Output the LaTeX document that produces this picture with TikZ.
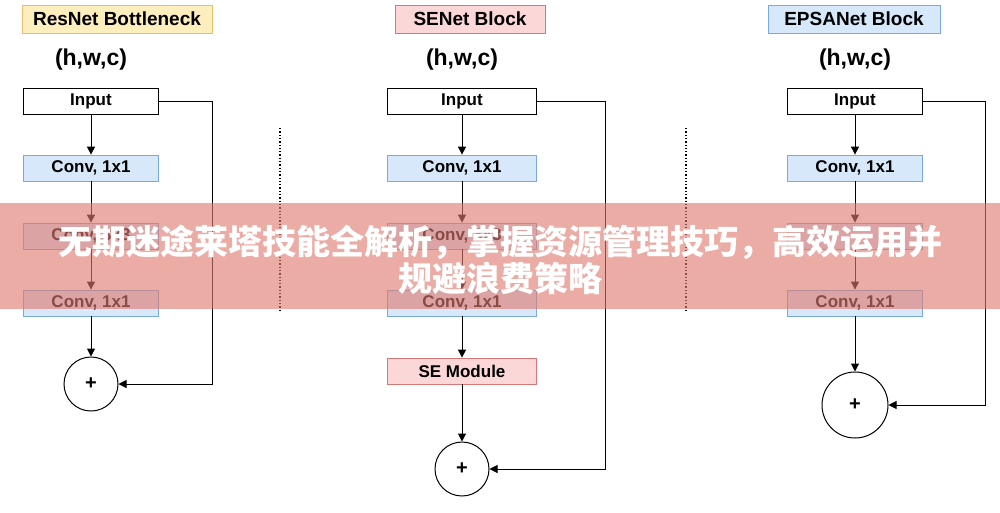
\documentclass[tikz,border=0pt]{standalone}
\usepackage{fontspec}
\setmainfont{Liberation Sans}
\newfontfamily\cjk{Noto Sans CJK SC}
\usetikzlibrary{arrows.meta}
\definecolor{cyel}{RGB}{253,238,190}\definecolor{cyelD}{RGB}{230,190,110}
\definecolor{cpink}{RGB}{252,215,215}\definecolor{cpinkD}{RGB}{215,120,120}
\definecolor{cblue}{RGB}{215,232,250}\definecolor{cblueD}{RGB}{120,170,220}
\definecolor{cband}{RGB}{222,122,110}
\begin{document}
\begin{tikzpicture}[x=1pt,y=-1pt,
 box/.style={draw=#1,line width=0.8pt,minimum height=26pt,inner sep=0pt,font=\bfseries\fontsize{17}{17}\selectfont},
 ttl/.style={draw=#1,line width=1pt,minimum height=28pt,inner sep=0pt,font=\bfseries\fontsize{19}{19}\selectfont},
 hd/.style={font=\bfseries\fontsize{23}{23}\selectfont},
 arr/.style={-{Triangle[length=8pt,width=8pt]},line width=1pt},
 dot/.style={line width=1.3pt,dotted},
 circ/.style={draw,circle,line width=1pt,inner sep=0pt,font=\bfseries\fontsize{20}{20}\selectfont}]
\path[use as bounding box,fill=white] (0,0) rectangle (1000,512);
% ResNet
\node[ttl=cyelD,fill=cyel,minimum width=190pt] (t1) at (117,19) {ResNet Bottleneck};
\node[hd] (s1) at (91,60) {(h,w,c)};
\node[box=black,fill=white,minimum width=135pt] (i1) at (91,101) {Input};
\node[box=cblueD,fill=cblue,minimum width=135pt] (a1) at (91,168) {Conv, 1x1};
\node[box=cblueD,fill=cblue,minimum width=135pt] (b1) at (91,236) {Conv, 3x3};
\node[box=cblueD,fill=cblue,minimum width=135pt] (c1) at (91,303) {Conv, 1x1};
\node[circ,minimum size=54pt] (p1) at (91,384) {+};
\draw[arr] (i1)--(a1); \draw[arr] (a1)--(b1); \draw[arr] (b1)--(c1); \draw[arr] (c1)--(p1);
\coordinate (k1) at (212,101); \coordinate (q1) at (212,384);
\draw[arr] (i1.east)--(k1)--(q1)--(p1.east);
% SENet
\node[ttl=cpinkD,fill=cpink,minimum width=150pt] (t2) at (470,19) {SENet Block};
\node[hd] (s2) at (462,60) {(h,w,c)};
\node[box=black,fill=white,minimum width=149pt] (i2) at (462,101) {Input};
\node[box=cblueD,fill=cblue,minimum width=149pt] (a2) at (462,168) {Conv, 1x1};
\node[box=cblueD,fill=cblue,minimum width=149pt] (b2) at (462,236) {Conv, 3x3};
\node[box=cblueD,fill=cblue,minimum width=149pt] (c2) at (462,303) {Conv, 1x1};
\node[box=cpinkD,fill=cpink,minimum width=149pt] (e2) at (462,371) {SE Module};
\node[circ,minimum size=54pt] (p2) at (462,469) {+};
\draw[arr] (i2)--(a2); \draw[arr] (a2)--(b2); \draw[arr] (b2)--(c2); \draw[arr] (c2)--(e2); \draw[arr] (e2)--(p2);
\coordinate (k2) at (605,101); \coordinate (q2) at (605,469);
\draw[arr] (i2.east)--(k2)--(q2)--(p2.east);
% EPSANet
\node[ttl=cblueD,fill=cblue,minimum width=172pt] (t3) at (854,19) {EPSANet Block};
\node[hd] (s3) at (855,60) {(h,w,c)};
\node[box=black,fill=white,minimum width=135pt] (i3) at (855,101) {Input};
\node[box=cblueD,fill=cblue,minimum width=135pt] (a3) at (855,168) {Conv, 1x1};
\node[box=cblueD,fill=cblue,minimum width=135pt] (b3) at (855,236) {};
\node[box=cblueD,fill=cblue,minimum width=135pt] (c3) at (855,303) {Conv, 1x1};
\node[circ,minimum size=66pt] (p3) at (855,405) {+};
\draw[arr] (i3)--(a3); \draw[arr] (a3)--(b3); \draw[arr] (b3)--(c3); \draw[arr] (c3)--(p3);
\coordinate (k3) at (985,101); \coordinate (q3) at (985,405);
\draw[arr] (i3.east)--(k3)--(q3)--(p3.east);
% separators
\coordinate (d1a) at (280,128); \coordinate (d1b) at (280,312);
\coordinate (d2a) at (686,128); \coordinate (d2b) at (686,312);
\draw[dot] (d1a)--(d1b); \draw[dot] (d2a)--(d2b);
% banner
\fill[cband,opacity=0.62] (0,203) rectangle (1000,309);
\node[text=white,font=\cjk\bfseries\fontsize{34}{37}\selectfont,align=center] (bn) at (500,260) {无期迷途莱塔技能全解析，掌握资源管理技巧，高效运用并\\规避浪费策略};
\end{tikzpicture}
\end{document}
